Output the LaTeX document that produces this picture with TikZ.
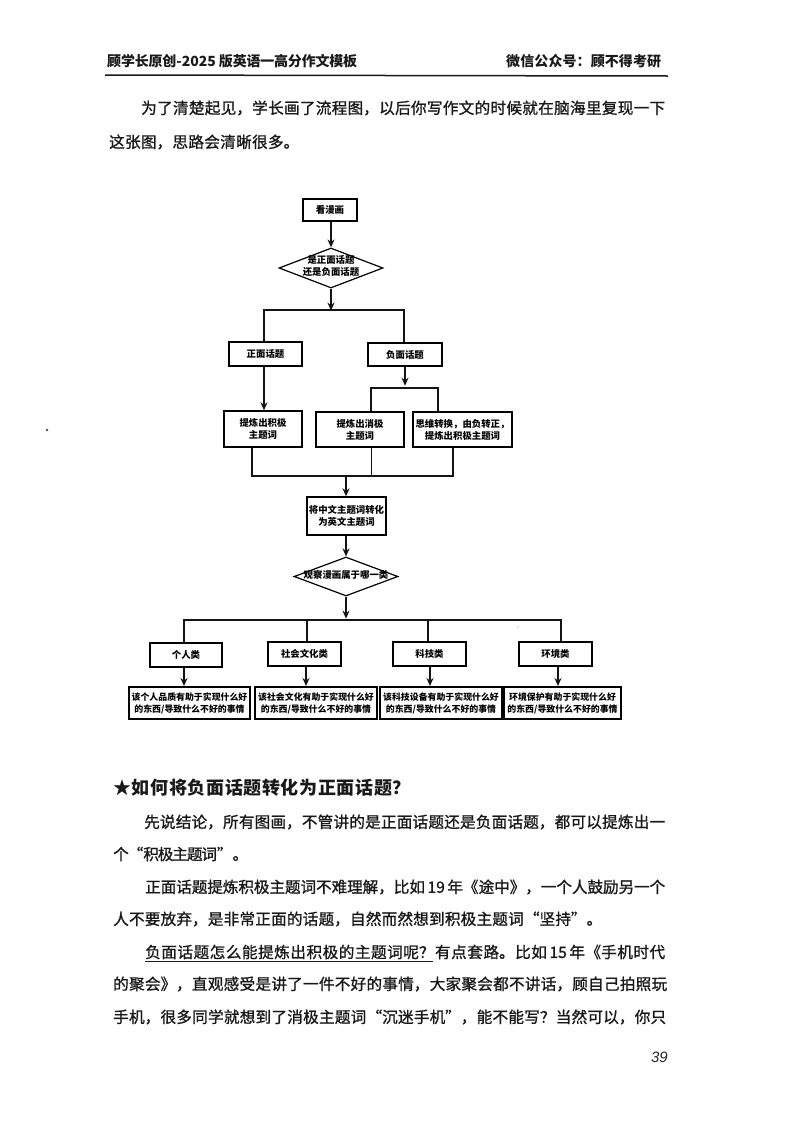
\documentclass[tikz,border=0pt]{standalone}
\usepackage{fontspec}
\usetikzlibrary{arrows.meta,shapes.geometric}
\setmainfont{Noto Sans CJK SC}
\newfontfamily\bodyfont{Noto Sans CJK SC}[FakeBold=1.1]
\newfontfamily\labelfont{Noto Sans CJK SC}
\newfontfamily\pagefont{Liberation Sans}
\XeTeXlinebreaklocale "zh"
\XeTeXlinebreakskip=0pt plus 4pt minus 2pt
\tolerance=9999
\hbadness=10000
\hfuzz=20pt
\newcommand{\tw}[1]{\raisebox{-3.5pt}{\smash{\makebox[0pt]{\begin{tabular}{@{}c@{}}#1\end{tabular}}}}}
\newcommand{\linefit}[2]{\parbox[c]{#1pt}{\parindent=0pt\parfillskip=0pt\leftskip=0pt\rightskip=0pt #2\par}}
\tikzset{
  page/.style={anchor=west,inner sep=0pt,font=\bodyfont\fontsize{15.6}{18}\selectfont,text=black!90},
  head/.style={anchor=west,inner sep=0pt,font=\labelfont\bfseries\fontsize{14}{18}\selectfont,text=black!90},
  flow/.style={draw=black,line width=1.4pt,fill=white,inner sep=0pt,align=center,
    font=\labelfont\bfseries\fontsize{9.4}{12}\selectfont},
  small/.style={flow,font=\labelfont\bfseries\fontsize{8.9}{12}\selectfont},
  dia/.style={flow,shape=diamond,line width=1.2pt},
  wire/.style={line width=1.4pt,draw=black!92},
  arr/.style={wire,-{Stealth[length=8pt,width=7pt]}}
}
\begin{document}
\begin{tikzpicture}[x=1pt,y=-1pt]
\fill[white] (0,0) rectangle (800,1130);
\useasboundingbox (0,0) rectangle (800,1130);
% page header
\node[head] (hl) at (107,61) {\linefit{250}{顾学长原创-2025 版英语一高分作文模板}};
\node[head] (hr) at (506,61) {\linefit{155}{微信公众号：顾不得考研}};
\coordinate (ruleA) at (105,75);
\coordinate (ruleB) at (668,76);
\draw[line width=1.5pt,black!90] (ruleA) -- (ruleB);
\node[page] (p1) at (141,108) {\linefit{524}{为了清楚起见，学长画了流程图，以后你写作文的时候就在脑海里复现一下}};
\node[page] (p2) at (109,142) {\linefit{190}{这张图，思路会清晰很多。}};
% flowchart nodes
\node[flow,minimum width=54pt,minimum height=22pt] (start) at (330,210) {看漫画};
\node[dia,minimum width=104pt,minimum height=40pt] (d1) at (331,268) {\tw{是正面话题\\还是负面话题}};
\node[flow,minimum width=73pt,minimum height=24pt] (pos) at (265.5,354) {正面话题};
\node[flow,minimum width=74pt,minimum height=23pt] (neg) at (405,354.5) {负面话题};
\node[flow,minimum width=78pt,minimum height=36pt] (kw1) at (263,429) {提炼出积极\\主题词};
\node[flow,minimum width=88pt,minimum height=35pt] (kw2) at (360,429.5) {提炼出消极\\主题词};
\node[flow,minimum width=99pt,minimum height=35pt] (kw3) at (462.5,429.5) {思维转换，由负转正，\\提炼出积极主题词};
\node[flow,minimum width=79pt,minimum height=38pt] (en) at (346.5,516) {将中文主题词转化\\为英文主题词};
\node[dia,minimum width=104pt,minimum height=39pt] (d2) at (346,576.5) {\tw{观察漫画属于哪一类}};
\node[flow,minimum width=72pt,minimum height=24pt] (c1) at (186,655) {个人类};
\node[flow,minimum width=73pt,minimum height=24pt] (c2) at (304.5,654) {社会文化类};
\node[flow,minimum width=73pt,minimum height=24pt] (c3) at (429.5,654) {科技类};
\node[flow,minimum width=73pt,minimum height=24pt] (c4) at (555.5,654) {环境类};
\node[small,minimum width=121pt,minimum height=32pt] (r1) at (189.5,703) {该个人品质有助于实现什么好\\的东西/导致什么不好的事情};
\node[small,minimum width=122pt,minimum height=32pt] (r2) at (316,703) {该社会文化有助于实现什么好\\的东西/导致什么不好的事情};
\node[small,minimum width=122pt,minimum height=32pt] (r3) at (441,703) {该科技设备有助于实现什么好\\的东西/导致什么不好的事情};
\node[small,minimum width=117pt,minimum height=32pt] (r4) at (562.5,703) {环境保护有助于实现什么好\\的东西/导致什么不好的事情};
% junctions
\coordinate (j1) at (331,310);
\coordinate (j1l) at (264,310);
\coordinate (j1r) at (404,310);
\coordinate (j2) at (405,388);
\coordinate (j2l) at (371,388);
\coordinate (j2r) at (438,388);
\coordinate (j3l) at (252,476);
\coordinate (j3m) at (371,476);
\coordinate (j3r) at (453,476);
\coordinate (j3a) at (346,476);
\coordinate (j4) at (346,620);
\coordinate (j4a) at (184,620);
\coordinate (j4b) at (307,620);
\coordinate (j4c) at (428,620);
\coordinate (j4d) at (561,620);
\coordinate (a1) at (184,686);
\coordinate (a2) at (306,686);
\coordinate (a3) at (430,686);
\coordinate (a4) at (558,686);
% connectors
\draw[arr] (start.south -| d1.north) -- (d1.north);
\draw[arr] (d1.south) -- ++(0,22);
\draw[wire] (j1l |- pos.north) -- (j1l) -- (j1r) -- (j1r |- neg.north);
\draw[arr] (j1l |- pos.south) -- (j1l |- kw1.north);
\draw[arr] (j2 |- neg.south) -- ++(0,19);
\draw[wire] (j2l |- kw2.north) -- (j2l) -- (j2r) -- (j2r |- kw3.north);
\draw[wire] (j3l |- kw1.south) -- (j3l) -- (j3r) -- (j3r |- kw3.south);
\draw[wire,line width=1pt] (j3m |- kw2.south) -- (j3m);
\draw[arr] (j3a) -- (j3a |- en.north);
\draw[arr] (en.south -| d2.north) -- (d2.north);
\draw[arr] (d2.south) -- ++(0,22);
\draw[wire] (j4a |- c1.north) -- (j4a) -- (j4d) -- (j4d |- c4.north);
\draw[wire] (j4b) -- (j4b |- c2.north);
\draw[wire] (j4c) -- (j4c |- c3.north);
\draw[arr] (a1 |- c1.south) -- (a1);
\draw[arr] (a2 |- c2.south) -- (a2);
\draw[arr] (a3 |- c3.south) -- (a3);
\draw[arr] (a4 |- c4.south) -- (a4);
% specks
\fill[black!70] (47,430) circle (1.3pt);
\fill[black!50] (518,627) circle (.7pt);
% lower text
\node[anchor=west,inner sep=0pt,font=\labelfont\bfseries\fontsize{18}{20}\selectfont,text=black!90] (h2) at (113,788) {\linefit{297}{★如何将负面话题转化为正面话题？}};
\node[page] (t1) at (144,822) {\linefit{521}{先说结论，所有图画，不管讲的是正面话题还是负面话题，都可以提炼出一}};
\node[page] (t2) at (113,854) {\linefit{135}{个“积极主题词”。}};
\node[page] (t3) at (145,887) {\linefit{520}{正面话题提炼积极主题词不难理解，比如\,19\,年《途中》，一个人鼓励另一个}};
\node[page] (t4) at (113,919) {\linefit{489}{人不要放弃，是非常正面的话题，自然而然想到积极主题词“坚持”。}};
\node[page] (t5) at (145,952) {\linefit{520}{负面话题怎么能提炼出积极的主题词呢？有点套路。比如\,15\,年《手机时代}};
\coordinate (ua) at (145,961);
\coordinate (ub) at (433,961);
\draw[line width=1pt,black!90] (ua) -- (ub);
\node[page] (t6) at (113,984) {\linefit{554}{的聚会》，直观感受是讲了一件不好的事情，大家聚会都不讲话，顾自己拍照玩}};
\node[page] (t7) at (113,1017) {\linefit{553}{手机，很多同学就想到了消极主题词“沉迷手机”，能不能写？当然可以，你只}};
\node[anchor=east,inner sep=0pt,font=\pagefont\itshape\fontsize{15}{18}\selectfont,text=black!85] (pn) at (668,1057) {39};
\end{tikzpicture}
\end{document}
